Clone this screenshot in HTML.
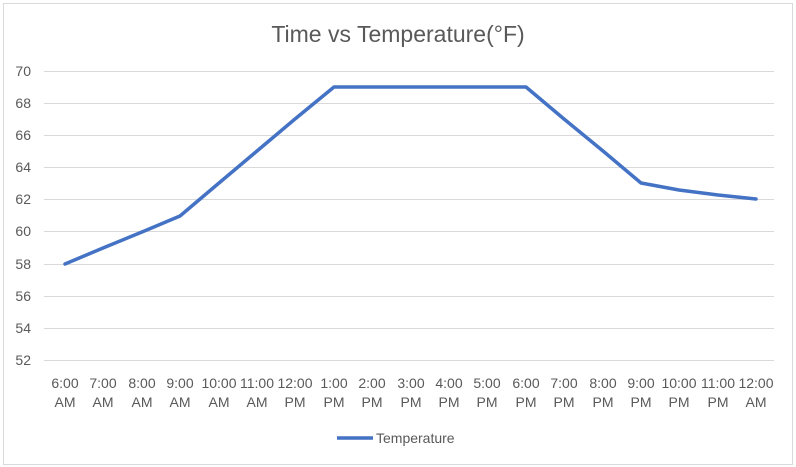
<!DOCTYPE html>
<html><head><style>
body{margin:0;background:#fff;}
svg{display:block;font-family:"Liberation Sans",sans-serif;}
</style></head><body>
<svg width="796" height="467" viewBox="0 0 796 467" xmlns="http://www.w3.org/2000/svg">
<rect x="0" y="0" width="796" height="467" fill="#fff"/>
<rect x="3.5" y="3.5" width="789" height="461" fill="none" stroke="#d9d9d9"/>
<text x="398" y="42" text-anchor="middle" font-size="23" fill="#595959">Time vs Temperature(°F)</text>
<g stroke="#d9d9d9" stroke-width="1">
<line x1="44" x2="774" y1="71.5" y2="71.5"/>
<line x1="44" x2="774" y1="103.5" y2="103.5"/>
<line x1="44" x2="774" y1="135.5" y2="135.5"/>
<line x1="44" x2="774" y1="167.5" y2="167.5"/>
<line x1="44" x2="774" y1="199.5" y2="199.5"/>
<line x1="44" x2="774" y1="231.5" y2="231.5"/>
<line x1="44" x2="774" y1="264.5" y2="264.5"/>
<line x1="44" x2="774" y1="296.5" y2="296.5"/>
<line x1="44" x2="774" y1="328.5" y2="328.5"/>
<line x1="44" x2="774" y1="360.5" y2="360.5"/>
</g>
<g font-size="14" fill="#595959" text-anchor="end">
<text x="31" y="76">70</text><text x="31" y="108">68</text><text x="31" y="140">66</text>
<text x="31" y="172">64</text><text x="31" y="204">62</text><text x="31" y="236">60</text>
<text x="31" y="269">58</text><text x="31" y="301">56</text><text x="31" y="333">54</text>
<text x="31" y="365">52</text>
</g>
<g font-size="14" fill="#595959" text-anchor="middle">
<text x="65" y="388">6:00</text><text x="65" y="407">AM</text>
<text x="103" y="388">7:00</text><text x="103" y="407">AM</text>
<text x="142" y="388">8:00</text><text x="142" y="407">AM</text>
<text x="180" y="388">9:00</text><text x="180" y="407">AM</text>
<text x="219" y="388">10:00</text><text x="219" y="407">AM</text>
<text x="257" y="388">11:00</text><text x="257" y="407">AM</text>
<text x="295" y="388">12:00</text><text x="295" y="407">PM</text>
<text x="334" y="388">1:00</text><text x="334" y="407">PM</text>
<text x="372" y="388">2:00</text><text x="372" y="407">PM</text>
<text x="411" y="388">3:00</text><text x="411" y="407">PM</text>
<text x="449" y="388">4:00</text><text x="449" y="407">PM</text>
<text x="487" y="388">5:00</text><text x="487" y="407">PM</text>
<text x="526" y="388">6:00</text><text x="526" y="407">PM</text>
<text x="564" y="388">7:00</text><text x="564" y="407">PM</text>
<text x="603" y="388">8:00</text><text x="603" y="407">PM</text>
<text x="641" y="388">9:00</text><text x="641" y="407">PM</text>
<text x="679" y="388">10:00</text><text x="679" y="407">PM</text>
<text x="718" y="388">11:00</text><text x="718" y="407">PM</text>
<text x="756" y="388">12:00</text><text x="756" y="407">AM</text>
</g>
<polyline fill="none" stroke="#4472c4" stroke-width="3.5" stroke-linejoin="round" stroke-linecap="round"
points="65,264 103,248 142,232 180,216 219,183 257,151 295,119 334,87 372,87 411,87 449,87 487,87 526,87 564,119 603,151 641,183 679,190 718,195 756,199"/>
<line x1="337" x2="373" y1="438" y2="438" stroke="#4472c4" stroke-width="3.5"/>
<text x="376" y="443" font-size="14" fill="#595959">Temperature</text>
</svg>
</body></html>
